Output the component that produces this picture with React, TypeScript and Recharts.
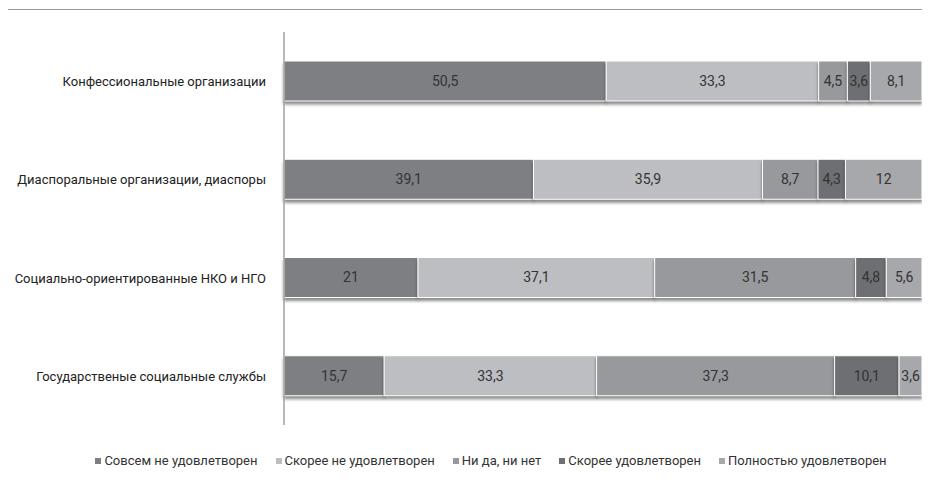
import { BarChart, Bar, XAxis, YAxis, Legend, LabelList } from "recharts";

const categories = [
  "Конфессиональные организации",
  "Диаспоральные организации, диаспоры",
  "Социально-ориентированные НКО и НГО",
  "Государственые социальные службы",
];

const seriesNames = [
  "Совсем не удовлетворен",
  "Скорее не удовлетворен",
  "Ни да, ни нет",
  "Скорее удовлетворен",
  "Полностью удовлетворен",
];

const notSatisfied = [50.5, 39.1, 21, 15.7];
const ratherNot = [33.3, 35.9, 37.1, 33.3];
const neither = [4.5, 8.7, 31.5, 37.3];
const ratherYes = [3.6, 4.3, 4.8, 10.1];
const fully = [8.1, 12, 5.6, 3.6];

const COLORS = ["#7e7f83", "#bdbec1", "#98999c", "#6e6f72", "#a7a8ab"];
const FONT = "Roboto, sans-serif";

const values = [notSatisfied, ratherNot, neither, ratherYes, fully];

const data = categories.map((name, i) => {
  const row: Record<string, string | number> = { name };
  seriesNames.forEach((s, k) => {
    row["s" + k] = values[k][i];
  });
  return row;
});

const fmt = (v: any) => String(v).replace(".", ",");

function CategoryTick(props: any) {
  const { x, y, payload } = props;
  return (
    <text x={x} y={y} dy={5} textAnchor="end" fontFamily={FONT} fontSize={13} fill="#222">
      {payload.value}
    </text>
  );
}

function LegendContent() {
  return (
    <div style={{ display: "flex", justifyContent: "center", paddingLeft: 60, fontFamily: FONT, fontSize: 13, color: "#333" }}>
      {seriesNames.map((s, k) => (
        <span key={s} style={{ display: "inline-flex", alignItems: "center", marginRight: k < seriesNames.length - 1 ? 18 : 0 }}>
          <span style={{ width: 6, height: 6, background: COLORS[k], display: "inline-block", marginRight: 3 }} />
          {s}
        </span>
      ))}
    </div>
  );
}

export default function App() {
  return (
    <div style={{ position: "relative", width: 930, height: 483, margin: -8, background: "#fff", overflow: "hidden" }}>
      <style>{`.recharts-bar-rectangle path { filter: drop-shadow(0px 3px 1.5px rgba(0,0,0,0.45)); }`}</style>
      <div style={{ position: "absolute", left: 5, top: 9, right: 0, height: 1, background: "#9a9a9a" }} />
      <div style={{ position: "absolute", left: 5, top: 9, bottom: 0, width: 1, background: "#9a9a9a" }} />
      <BarChart
        width={930}
        height={483}
        data={data}
        layout="vertical"
        margin={{ top: 32, right: 8, bottom: 28, left: 0 }}
        barSize={40}
      >
        <XAxis type="number" domain={[0, 100]} hide />
        <YAxis
          type="category"
          dataKey="name"
          width={284}
          axisLine={{ stroke: "#a0a0a0", strokeWidth: 1.5 }}
          tickLine={false}
          tick={<CategoryTick />}
          tickMargin={12}
        />
        {seriesNames.map((s, k) => (
          <Bar
            key={s}
            dataKey={"s" + k}
            name={s}
            stackId="a"
            fill={COLORS[k]}
            stroke="#ffffff"
            strokeWidth={1}
            isAnimationActive={false}
          >
            <LabelList
              dataKey={"s" + k}
              position="center"
              formatter={fmt}
              style={{ fontFamily: FONT, fontSize: 14, fill: "#333" }}
            />
          </Bar>
        ))}
        <Legend
          verticalAlign="bottom"
          height={30}
          content={LegendContent}
          wrapperStyle={{ bottom: 0, left: 0 }}
        />
      </BarChart>
    </div>
  );
}
